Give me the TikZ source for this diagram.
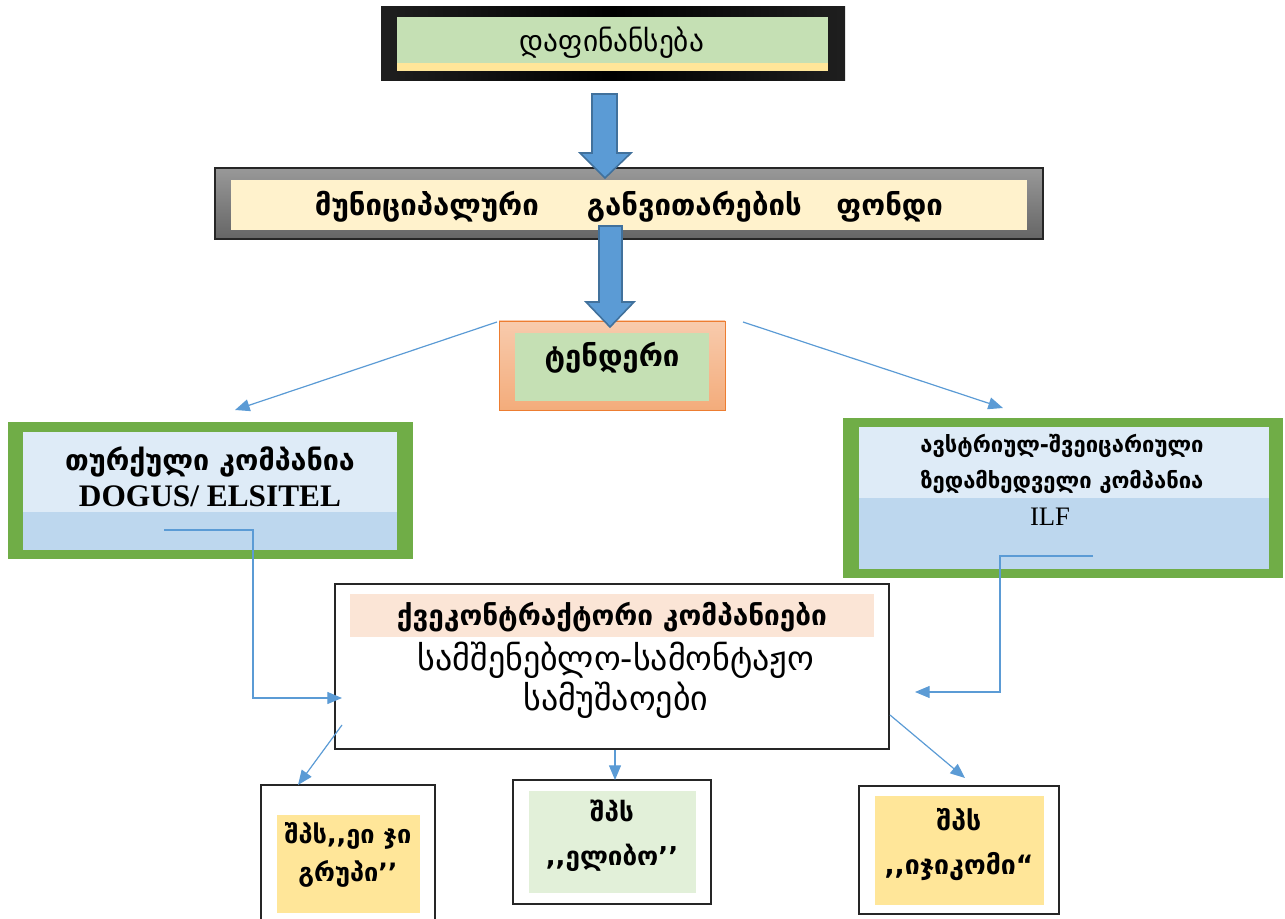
\documentclass[tikz,border=0pt]{standalone}
\usepackage{fontspec}
\setmainfont{Liberation Serif}
\newfontfamily\geo{DejaVu Sans}
\usetikzlibrary{arrows.meta,fit,shadings}
\definecolor{lgreen}{HTML}{C5E0B4}
\definecolor{lyellow}{HTML}{FFE699}
\definecolor{cream}{HTML}{FFF2CC}
\definecolor{gray1}{HTML}{7F7F7F}
\definecolor{salmon}{HTML}{F4B183}
\definecolor{salmonl}{HTML}{F8CBAD}
\definecolor{orangeb}{HTML}{ED7D31}
\definecolor{bgreen}{HTML}{70AD47}
\definecolor{lblue}{HTML}{DEEBF7}
\definecolor{mblue}{HTML}{BDD7EE}
\definecolor{peach}{HTML}{FBE5D6}
\definecolor{pgreen}{HTML}{E2F0D9}
\definecolor{arrblue}{HTML}{5B9BD5}
\definecolor{arredge}{HTML}{41719C}
\definecolor{frame}{HTML}{262626}
\tikzset{
  rect/.style={inner sep=0pt, outer sep=0pt},
  thin arrow/.style={draw=arrblue, line width=0.9pt, -{Triangle[length=11pt,width=9pt]}},
  block arrow/.style={fill=arrblue, draw=arredge, line width=1.2pt, line join=miter},
  gtext/.style={font=\geo, align=center, inner sep=0pt},
}
\begin{document}
\begin{tikzpicture}[x=0.75pt,y=-0.75pt]
\useasboundingbox (0,0) rectangle (1285,919);
% top box
\node[rect, left color=black!88, right color=black!88, middle color=black, fit={(381,7)(845,81)}] (fin) {};
\node[rect, fill=lyellow, fit={(397,17)(828,71)}] (finy) {};
\node[rect, fill=lgreen, fit={(397,17)(828,63)}] (fing) {};
\node[gtext, font=\geo\fontsize{22pt}{26pt}\selectfont] (fintxt) at (612,43) {დაფინანსება};
% fund box
\node[rect, top color=gray1!80!white, bottom color=gray1!80!black, middle color=gray1, draw=frame, line width=0.8pt, fit={(215,168)(1043,239)}] (fund) {};
\node[rect, fill=cream, fit={(231,180)(1027,230)}] (fundin) {};
% arrow 1
\filldraw[block arrow] (592,94) -- (617,94) -- (617,153) -- (631,153) -- (605,178) -- (580,153) -- (592,153) -- cycle;
% tender
\node[rect, top color=salmonl, bottom color=salmon!90!orangeb, draw=orangeb, line width=0.6pt, fit={(499,321)(725,410)}] (tender) {};
\node[rect, fill=lgreen, fit={(515,333)(709,401)}] (tenderin) {};
% arrow 2
\filldraw[block arrow] (599,226) -- (622,226) -- (622,302) -- (634,302) -- (610,327) -- (586,302) -- (599,302) -- cycle;
\node[gtext, font=\geo\bfseries\fontsize{22pt}{26pt}\selectfont] (fundtxt) at (629,207) {მუნიციპალური\hspace{36pt}განვითარების\hspace{26pt}ფონდი};
\node[gtext, font=\geo\bfseries\fontsize{22pt}{26pt}\selectfont] (tendertxt) at (612,358) {ტენდერი};
% left company
\node[rect, fill=bgreen, fit={(8,422)(413,559)}] (turk) {};
\node[rect, fill=mblue, fit={(23,432)(397,550)}] (turkin) {};
\node[rect, fill=lblue, fit={(23,432)(397,512)}] (turktop) {};
\node[gtext, font=\geo\bfseries\fontsize{21.5pt}{25pt}\selectfont] (turktxt) at (210,462) {თურქული კომპანია};
\node[inner sep=0pt, font=\bfseries\fontsize{23.5pt}{27pt}\selectfont] (dogus) at (210,496) {DOGUS/ ELSITEL};
% right company
\node[rect, fill=bgreen, fit={(843,418)(1283,578)}] (ilf) {};
\node[rect, fill=mblue, fit={(859,427)(1269,569)}] (ilfin) {};
\node[rect, fill=lblue, fit={(859,427)(1269,498)}] (ilftop) {};
\node[gtext, font=\geo\bfseries\fontsize{16.5pt}{27pt}\selectfont] (ilftxt) at (1062,464) {ავსტრიულ-შვეიცარიული\\ზედამხედველი კომპანია};
\node[inner sep=0pt, font=\fontsize{20pt}{24pt}\selectfont] (ilfname) at (1050,517) {ILF};
% center box
\node[rect, fill=white, draw=frame, line width=0.9pt, fit={(335,584)(889,749)}] (sub) {};
\node[rect, fill=peach, fit={(350,594)(874,637)}] (subin) {};
\node[gtext, font=\geo\bfseries\fontsize{21pt}{25pt}\selectfont] (subtxt) at (612,617) {ქვეკონტრაქტორი კომპანიები};
\node[gtext, font=\geo\fontsize{25.5pt}{30pt}\selectfont] (worktxt) at (616,680) {სამშენებლო-სამონტაჟო\\სამუშაოები};
% bottom boxes
\node[rect, fill=white, draw=frame, line width=0.9pt, fit={(261,785)(435,930)}] (ag) {};
\node[rect, fill=lyellow, fit={(277,815)(420,913)}] (agin) {};
\node[gtext, font=\geo\bfseries\fontsize{19pt}{28pt}\selectfont] (agtxt) at (348,855) {შპს,,ეი ჯი\\გრუპი’’};
\node[rect, fill=white, draw=frame, line width=0.9pt, fit={(513,780)(711,904)}] (el) {};
\node[rect, fill=pgreen, fit={(529,791)(696,893)}] (elin) {};
\node[gtext, font=\geo\bfseries\fontsize{19.5pt}{33pt}\selectfont] (eltxt) at (612,836) {შპს\\,,ელიბო’’};
\node[rect, fill=white, draw=frame, line width=0.9pt, fit={(859,786)(1059,914)}] (ij) {};
\node[rect, fill=lyellow, fit={(875,796)(1044,905)}] (ijin) {};
\node[gtext, font=\geo\bfseries\fontsize{20pt}{33pt}\selectfont] (ijtxt) at (959,845) {შპს\\,,იჯიკომი“};
% connectors
\coordinate (t1) at (497,322); \coordinate (t1e) at (235,410);
\coordinate (t2) at (743,322); \coordinate (t2e) at (1003,408);
\draw[thin arrow] (t1) -- (t1e);
\draw[thin arrow] (t2) -- (t2e);
\coordinate (l0) at (164,530); \coordinate (l1) at (253,530); \coordinate (l2) at (253,698); \coordinate (l3) at (342,698);
\draw[thin arrow] (l0) -- (l1) -- (l2) -- (l3);
\coordinate (r0) at (1093,556); \coordinate (r1) at (1000,556); \coordinate (r2) at (1000,692); \coordinate (r3) at (915,692);
\draw[thin arrow] (r0) -- (r1) -- (r2) -- (r3);
\coordinate (b1) at (342,725); \coordinate (b1e) at (298,785);
\draw[thin arrow] (b1) -- (b1e);
\coordinate (b2) at (615,750); \coordinate (b2e) at (615,780);
\draw[thin arrow] (b2) -- (b2e);
\coordinate (b3) at (890,715); \coordinate (b3e) at (965,778);
\draw[thin arrow] (b3) -- (b3e);
\end{tikzpicture}
\end{document}
